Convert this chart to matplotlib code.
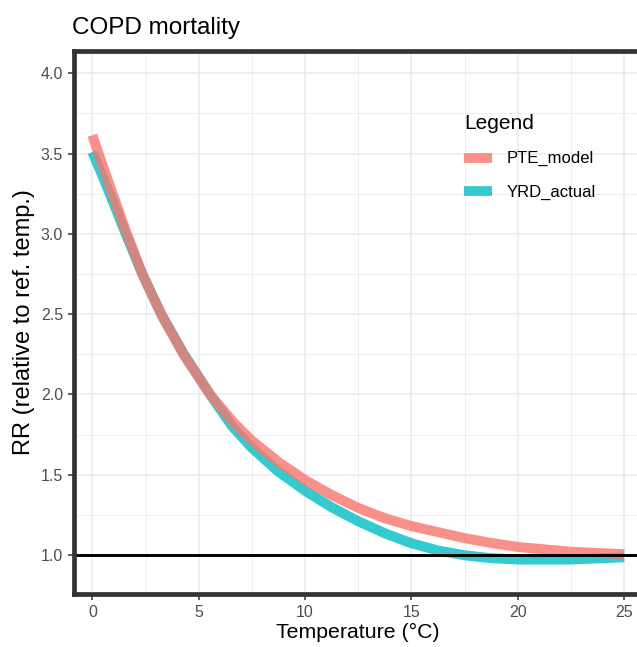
import numpy as np
import matplotlib
matplotlib.use("Agg")
import matplotlib.pyplot as plt
from matplotlib.lines import Line2D
from matplotlib.ticker import MultipleLocator

plt.rcParams['font.family'] = ['Liberation Sans', 'DejaVu Sans']

# values
pte_temp = [0, 0.28, 0.94, 1.57, 2.35, 3.23, 4.28, 5.53, 6.62, 7.5, 8.74, 10, 11.24,
            12.5, 13.75, 15, 17.5, 18.74, 20, 22.5, 25]
pte_model = [3.615, 3.505, 3.255, 3.02, 2.75, 2.50, 2.25, 2.00, 1.828, 1.712, 1.58, 1.467, 1.374,
             1.293, 1.229, 1.18, 1.105, 1.075, 1.05, 1.02, 1.005]
yrd_temp = [0, 0.5, 1.0, 1.6, 2.38, 3.26, 4.31, 5.56, 6.55, 7.5, 8.74, 10, 11.24,
            12.5, 13.75, 15, 16.25, 17.5, 18.74, 20, 22.5, 25]
yrd_actual = [3.51, 3.355, 3.19, 2.99, 2.74, 2.495, 2.25, 1.995, 1.805, 1.667, 1.52, 1.40, 1.298,
              1.21, 1.135, 1.073, 1.028, 0.998, 0.980, 0.972, 0.972, 0.986]
series_names = ["PTE_model", "YRD_actual"]
x_ticks = [0, 5, 10, 15, 20, 25]
y_ticks = [1.0, 1.5, 2.0, 2.5, 3.0, 3.5, 4.0]

pink = "#F8766D"
teal = "#00BFC4"
alpha = 0.8

fig = plt.figure(figsize=(6.37, 6.47), dpi=100)
ax = fig.add_axes([0.1162, 0.0819, 0.8925, 0.8397])

ax.set_xlim(-0.86, 25.86)
ax.set_ylim(0.757, 4.141)

# grid
ax.xaxis.set_major_locator(MultipleLocator(5))
ax.xaxis.set_minor_locator(MultipleLocator(2.5))
ax.yaxis.set_major_locator(MultipleLocator(0.5))
ax.yaxis.set_minor_locator(MultipleLocator(0.25))
ax.grid(which='major', color='#EBEBEB', lw=1.1, zorder=0)
ax.grid(which='minor', color='#EBEBEB', lw=0.6, zorder=0)
ax.set_axisbelow(True)

ax.plot(yrd_temp, yrd_actual, color=teal, alpha=alpha, lw=7.2,
        solid_capstyle='butt', solid_joinstyle='round', zorder=2)
ax.plot(pte_temp, pte_model, color=pink, alpha=alpha, lw=7.2,
        solid_capstyle='butt', solid_joinstyle='round', zorder=3)
ax.axhline(1.0, color='black', lw=2.1, zorder=4)

ax.set_xticks(x_ticks)
ax.set_yticks(y_ticks)
ax.set_xticklabels([str(t) for t in x_ticks])
ax.set_yticklabels(["%.1f" % t for t in y_ticks])
ax.tick_params(which='major', length=4, width=1.1, color='#333333',
               labelcolor='#4D4D4D', labelsize=11.5, pad=4)
ax.tick_params(which='minor', length=0)

for s in ax.spines.values():
    s.set_linewidth(3.4)
    s.set_color('#333333')
    s.set_zorder(5)

ax.set_xlabel("Temperature (°C)", fontsize=15.3, labelpad=2)
ax.set_ylabel("RR (relative to ref. temp.)", fontsize=17, labelpad=4)
ax.set_title("COPD mortality", fontsize=17.5, loc='left', x=-0.003, pad=12)

handles = [Line2D([0], [0], color=pink, alpha=alpha, lw=7, solid_capstyle='butt'),
           Line2D([0], [0], color=teal, alpha=alpha, lw=7, solid_capstyle='butt')]
leg = ax.legend(handles, series_names, title="Legend", loc='upper left',
                bbox_to_anchor=(0.665, 0.905), frameon=False, fontsize=12,
                title_fontsize=15, handlelength=1.7, handletextpad=0.85,
                labelspacing=1.1, borderpad=0.2)
leg._legend_box.align = "left"

fig.savefig("out.png", dpi=100)
